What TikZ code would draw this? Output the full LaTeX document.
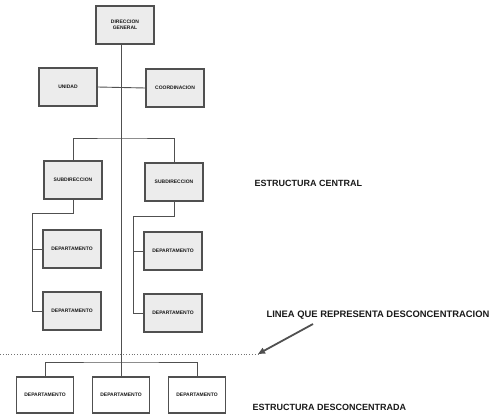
\documentclass[tikz,border=0pt]{standalone}
\usepackage{fontspec}
\setmainfont{Liberation Sans}[BoldFont={Liberation Sans Bold}]
\usepackage{tikz}
\usetikzlibrary{arrows.meta,positioning}
\definecolor{orgline}{RGB}{80,80,80}
\definecolor{orgfill}{RGB}{236,236,236}
\definecolor{orgtext}{RGB}{25,25,25}

\begin{document}
\begin{tikzpicture}[x=1pt,y=-1pt,
  orgbox/.style={draw=orgline, fill=orgfill, line width=1.1pt, minimum width=58pt,
    minimum height=38pt, inner sep=1pt, align=center, text=orgtext,
    font=\bfseries\fontsize{5}{5.5}\selectfont},
  deptbox/.style={orgbox, fill=white, minimum width=57pt, minimum height=36pt},
  link/.style={draw=orgline, line width=0.9pt},
  caption/.style={anchor=west, text=orgtext, font=\bfseries\fontsize{9}{11}\selectfont}]
\useasboundingbox (0,0) rectangle (494,414);
% --- Top of the chart ---
\node[orgbox] (dg) at (125,25) {DIRECCION\\GENERAL};
\node[orgbox] (un) at (68,87) {UNIDAD};
\node[orgbox] (co) at (175,88) {COORDINACION};
% --- Subdirecciones ---
\node[orgbox] (s1) at (73,180) {SUBDIRECCION};
\node[orgbox] (s2) at (174,182) {SUBDIRECCION};
% --- Departamentos (central) ---
\node[orgbox] (d1) at (72,249) {DEPARTAMENTO};
\node[orgbox] (d2) at (72,311) {DEPARTAMENTO};
\node[orgbox] (d3) at (173,251) {DEPARTAMENTO};
\node[orgbox] (d4) at (173,313) {DEPARTAMENTO};
% --- Departamentos (desconcentrados) ---
\node[deptbox] (e1) at (45,395) {DEPARTAMENTO};
\node[deptbox] (e2) at (121,395) {DEPARTAMENTO};
\node[deptbox] (e3) at (197,395) {DEPARTAMENTO};
% Junction points
\coordinate (hub) at (121,138);
\coordinate (lb) at (32,213);
\coordinate (rb) at (133,216);
\coordinate (bb) at (121,362);
\coordinate (dl) at (0,354);
\coordinate (dr) at (258,354);
% Main line
\draw[link] (dg.south -| e2.north) -- (e2.north);
\draw[link] (un.east) -- (co.west);
\draw[link] (s1.north) |- (hub) -| (s2.north);
% Left branch
\draw[link] (s1.south) |- (lb) |- (d2.west);
\draw[link] (lb |- d1.west) -- (d1.west);
% Right branch
\draw[link] (s2.south) |- (rb) |- (d4.west);
\draw[link] (rb |- d3.west) -- (d3.west);
% Bottom bus
\draw[link] (e1.north) |- (bb) -| (e3.north);
% Line of desconcentracion
\draw[orgline!80, line width=0.8pt, dotted] (dl) -- (dr);
\node[caption, font=\bfseries\fontsize{9.4}{11}\selectfont] (lin) at (263,315)
  {LINEA QUE REPRESENTA DESCONCENTRACION};
\coordinate (la) at (313,324);
\draw[-{Triangle[length=7pt,width=6pt]}, orgline, line width=1.8pt] (la) -- (dr);
% Labels
\node[caption] (ec) at (251,183) {ESTRUCTURA CENTRAL};
\node[caption] (ed) at (249,407) {ESTRUCTURA DESCONCENTRADA};
\end{tikzpicture}
\end{document}
